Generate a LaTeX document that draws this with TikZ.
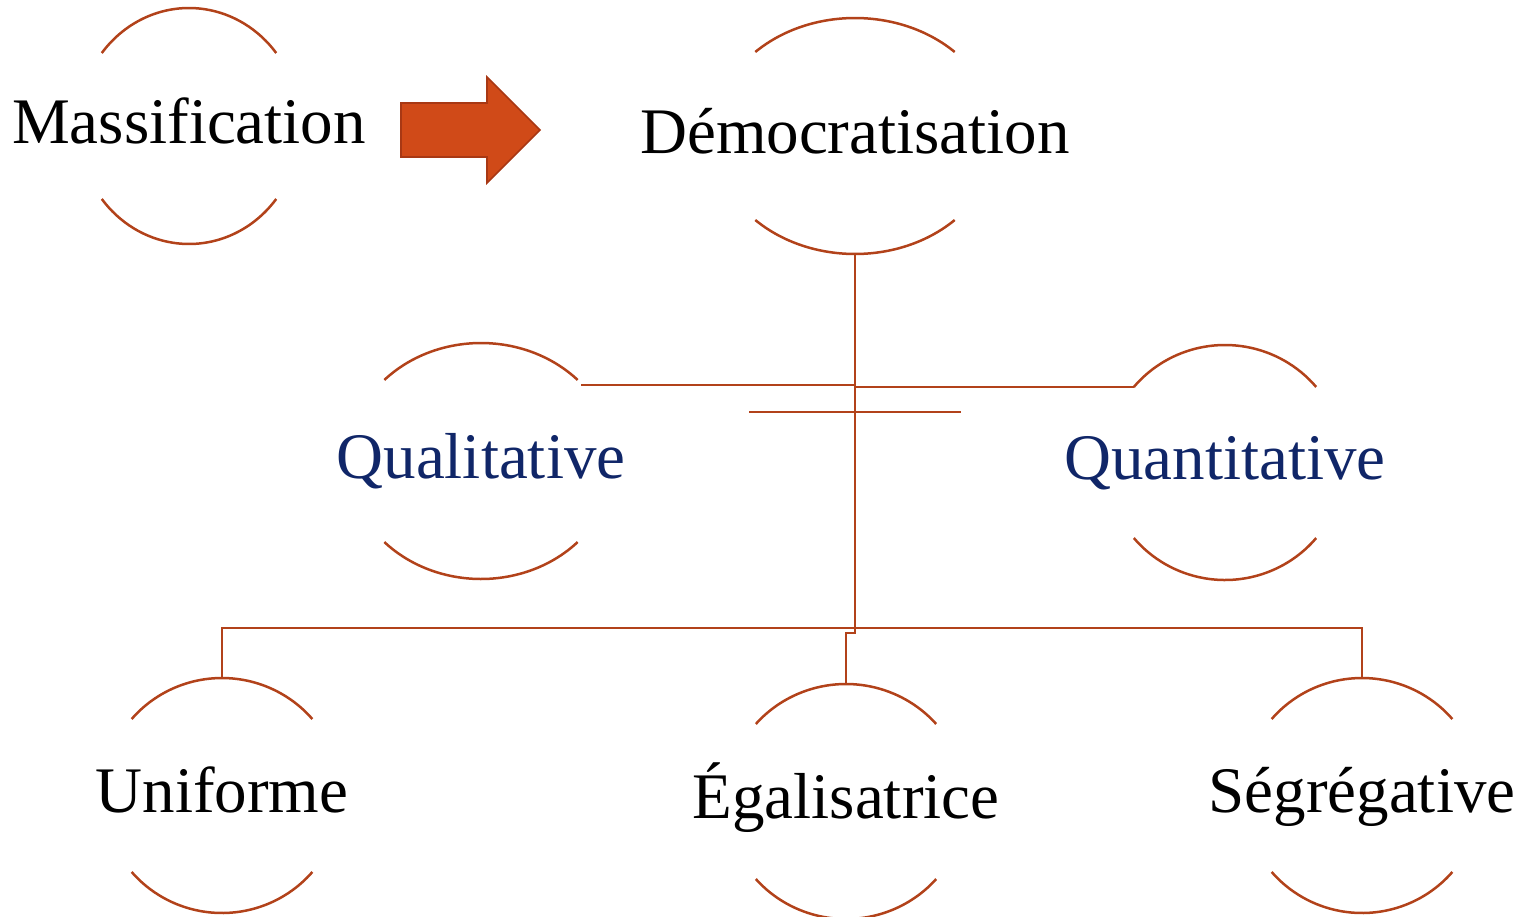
\documentclass[tikz,border=0pt]{standalone}
\usepackage{fontspec}
\setmainfont{Liberation Serif}
\usetikzlibrary{calc}
\definecolor{rust}{RGB}{178,66,26}
\definecolor{arrfill}{RGB}{208,74,24}
\definecolor{arrdraw}{RGB}{168,56,20}
\definecolor{navy}{RGB}{16,38,104}
\tikzset{
  ring/.style={draw=rust, line width=1.25pt},
  lbl/.style={inner sep=0pt, font=\fontsize{32.5}{36}\selectfont, text=black},
  lblblue/.style={lbl, text=navy},
  bigarrow/.style={fill=arrfill, draw=arrdraw, line width=0.8pt}
}
\newcommand\ringnode[8]{%
  \coordinate (#1) at (#2,#3);
  \node[#8, anchor=base] (#1-txt) at (#2,#3+17) {#7};
  \draw[ring] ([shift={(180+#6:#4 and #5)}]#1) arc[start angle=180+#6, end angle=360-#6, x radius=#4, y radius=#5];
  \draw[ring] ([shift={(#6:#4 and #5)}]#1) arc[start angle=#6, end angle=180-#6, x radius=#4, y radius=#5];
  \coordinate (#1-t) at ($(#1)+(0,-#5)$);
  \coordinate (#1-b) at ($(#1)+(0,#5)$);
  \coordinate (#1-ne) at ([shift={(360-#6:#4 and #5)}]#1);
  \coordinate (#1-nw) at ([shift={(180+#6:#4 and #5)}]#1);
}
\begin{document}
\begin{tikzpicture}[x=0.5pt, y=-0.5pt]
\useasboundingbox (0,0) rectangle (1530,916);
\ringnode{mass}{189}{126}{111}{118}{38.2}{Massification}{lbl}
\ringnode{dem}{855}{136}{142}{118}{45.4}{Démocratisation}{lbl}
\ringnode{qual}{481}{461}{133}{118}{43.4}{Qualitative}{lblblue}
\ringnode{quan}{1225}{462.5}{119}{117.5}{40}{Quantitative}{lblblue}
\ringnode{uni}{222}{795.5}{119}{117.5}{40.6}{Uniforme}{lbl}
\ringnode{ega}{846}{801.5}{120}{117.5}{41.3}{Égalisatrice}{lbl}
\ringnode{seg}{1362}{795.5}{119}{117.5}{40.6}{Ségrégative}{lbl}
% block arrow
\draw[bigarrow] (401,103) -- (487,103) -- (487,77) -- (540,130) -- (487,183) -- (487,157) -- (401,157) -- cycle;
% connectors
\coordinate (qline) at ($(dem-b)+(0,131)$);
\coordinate (rline) at ($(dem-b)+(0,133)$);
\draw[ring] (dem-b) -- ++(0,379) -| (ega-t);
\draw[ring] (uni-t) -- ++(0,-50) -| (seg-t);
\draw[ring] (qline) -- ([xshift=1.5pt]qline -| qual-ne);
\draw[ring] (rline) -- (rline -| quan-nw);
\draw[ring] ($(dem-b)+(-106,158)$) -- ++(212,0);
\end{tikzpicture}
\end{document}
